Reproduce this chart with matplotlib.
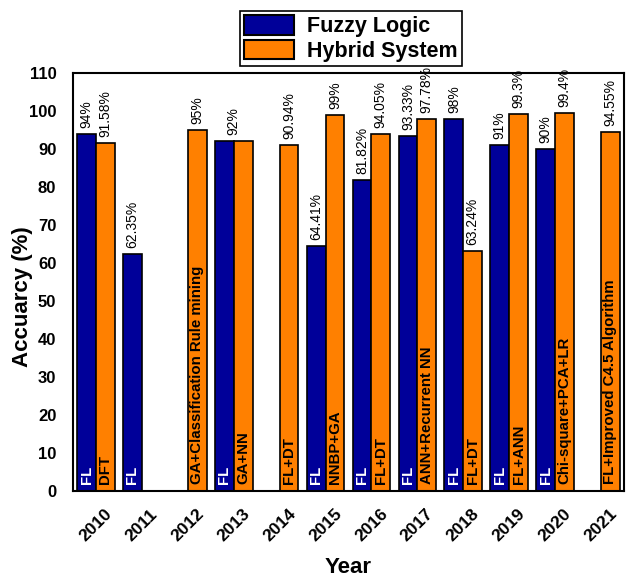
import matplotlib.pyplot as plt
import numpy as np

plt.rcParams['font.family'] = ['Liberation Sans', 'DejaVu Sans']

years = ['2010', '2011', '2012', '2013', '2014', '2015',
         '2016', '2017', '2018', '2019', '2020', '2021']
# None = no bar that year
fuzzy = [94, 62.35, None, 92, None, 64.41, 81.82, 93.33, 98, 91, 90, None]
hybrid = [91.58, None, 95, 92, 90.94, 99, 94.05, 97.78, 63.24, 99.3, 99.4, 94.55]
fuzzy_txt = ['94%', '62.35%', '', '92%', '', '64.41%', '81.82%', '93.33%', '98%', '91%', '90%', '']
hybrid_txt = ['91.58%', '', '95%', '92%', '90.94%', '99%', '94.05%', '97.78%', '63.24%', '99.3%', '99.4%', '94.55%']
fuzzy_method = ['FL', 'FL', '', 'FL', '', 'FL', 'FL', 'FL', 'FL', 'FL', 'FL', '']
hybrid_method = ['DFT', '', 'GA+Classification Rule mining', 'GA+NN', 'FL+DT', 'NNBP+GA',
                 'FL+DT', 'ANN+Recurrent NN', 'FL+DT', 'FL+ANN', 'Chi-square+PCA+LR',
                 'FL+Improved C4.5 Algorithm']

blue = '#000099'
orange = '#FF8000'
w = 0.41

fig = plt.figure(figsize=(6.31, 5.80), dpi=100)
ax = fig.add_axes([73/631, 89/580, 551/631, 418/580])

x = np.arange(len(years))
for i in range(len(years)):
    same = fuzzy[i] is not None and fuzzy[i] == hybrid[i]
    if fuzzy[i] is not None:
        ax.bar(x[i] - w/2, fuzzy[i], w, color=blue, edgecolor='black', linewidth=1.2)
        if not same:
            ax.text(x[i] - w/2, fuzzy[i] + 1.6, fuzzy_txt[i], rotation=90, ha='center',
                    va='bottom', fontsize=10)
        ax.text(x[i] - w/2, 1.8, fuzzy_method[i], rotation=90, ha='center',
                va='bottom', fontsize=10.8, fontweight='bold', color='white')
    if hybrid[i] is not None:
        ax.bar(x[i] + w/2, hybrid[i], w, color=orange, edgecolor='black', linewidth=1.2)
        xt = x[i] if same else x[i] + w/2
        ax.text(xt, hybrid[i] + 1.6, hybrid_txt[i], rotation=90, ha='center',
                va='bottom', fontsize=10)
        ax.text(x[i] + w/2, 1.8, hybrid_method[i], rotation=90, ha='center',
                va='bottom', fontsize=10.8, fontweight='bold', color='black')

ax.set_xlim(-0.5, len(years) - 0.5)
ax.set_ylim(0, 110)
ax.set_yticks(range(0, 111, 10))
ax.set_xticks(x)
ax.set_xticklabels(years, rotation=45, ha='center', fontsize=12.5, fontweight='bold')
for lab in ax.get_yticklabels():
    lab.set_fontsize(12)
    lab.set_fontweight('bold')
ax.tick_params(axis='both', length=0)
ax.tick_params(axis='y', pad=12)
ax.tick_params(axis='x', pad=11)
for s in ax.spines.values():
    s.set_linewidth(1.5)

ax.set_ylabel('Accuarcy (%)', fontsize=16, fontweight='bold')
ax.yaxis.set_label_coords(-0.0726, 0.466)
ax.set_xlabel('Year', fontsize=16, fontweight='bold', labelpad=9)

h1 = plt.Rectangle((0, 0), 1, 1, facecolor=blue, edgecolor='black', linewidth=1.5)
h2 = plt.Rectangle((0, 0), 1, 1, facecolor=orange, edgecolor='black', linewidth=1.5)
leg = fig.legend([h1, h2], ['Fuzzy Logic', 'Hybrid System'], loc='upper center',
                 bbox_to_anchor=(351/631, 1 - 11/580), fancybox=False, framealpha=1,
                 edgecolor='black', prop={'weight': 'bold', 'size': 15.5},
                 handlelength=2.3, handleheight=1.0, labelspacing=0.12,
                 borderpad=0.2, handletextpad=0.6, borderaxespad=0)
leg.get_frame().set_linewidth(1.2)

fig.savefig('out.png', dpi=100)
